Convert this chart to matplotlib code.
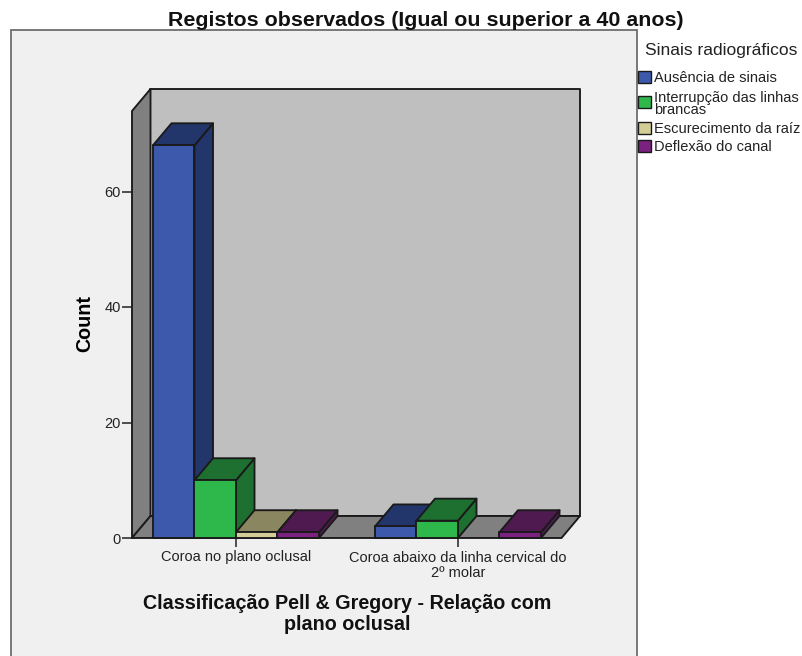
import matplotlib.pyplot as plt
from matplotlib.patches import Polygon, Rectangle

plt.rcParams['font.family'] = ['Liberation Sans', 'DejaVu Sans']

# Counts per crown position and radiographic sign
categories = ['Coroa no plano oclusal', 'Coroa abaixo da linha cervical do\n2º molar']
signs = ['Ausência de sinais', 'Interrupção das linhas\nbrancas', 'Escurecimento da raíz', 'Deflexão do canal']
ausencia = [68, 2]
interrupcao = [10, 3]
escurecimento = [1, 0]
deflexao = [1, 1]
yticks = [0, 20, 40, 60]

front_colors = ['#3D59AB', '#2EB84C', '#D3CE97', '#7B2180']
shade_colors = ['#23366C', '#1E7030', '#8A8660', '#4F1A4F']
edge = '#1A1A1A'

W, H = 803, 656
fig = plt.figure(figsize=(W / 100, H / 100), dpi=100, facecolor='white')

# light panel behind the plot, runs off the bottom of the figure
fig.add_artist(Rectangle((11 / W, -0.02), 626 / W, 1.02 - 30 / H, transform=fig.transFigure,
                         facecolor='#F0F0F0', edgecolor='#6E6E6E', linewidth=1.3, zorder=-1))

ax = fig.add_axes([132 / W, 1 - 538 / H, 448 / W, 449 / H])
ax.set_xlim(-104 / 222, 344 / 222)
ax.set_ylim(0, 449 / 5.775)
ax.patch.set_visible(False)
for s in ax.spines.values():
    s.set_visible(False)

bar_w = 41.5 / 222
dx = 18.5 / 222
dy = 22 / 5.775
x0, x1 = ax.get_xlim()
y1 = ax.get_ylim()[1]
x_front = x1 - dx


def poly(pts, color, z=1):
    ax.add_patch(Polygon(pts, closed=True, facecolor=color, edgecolor=edge, linewidth=1.35,
                         joinstyle='round', clip_on=False, zorder=z))


# back wall, left wall, floor
poly([(x0 + dx, dy), (x1, dy), (x1, y1), (x0 + dx, y1)], '#BFBFBF')
poly([(x0, 0), (x0 + dx, dy), (x0 + dx, y1), (x0, y1 - dy)], '#808080')
poly([(x0, 0), (x_front, 0), (x1, dy), (x0 + dx, dy)], '#808080')


def bar3d(left, h, front, shade, z):
    right = left + bar_w
    poly([(right, 0), (right + dx, dy), (right + dx, h + dy), (right, h)], shade, z)
    poly([(left, h), (right, h), (right + dx, h + dy), (left + dx, h + dy)], shade, z)
    poly([(left, 0), (right, 0), (right, h), (left, h)], front, z)


series = [ausencia, interrupcao, escurecimento, deflexao]
for c in range(len(categories)):
    for i, vals in enumerate(series):
        if vals[c] > 0:
            bar3d(c + (i - 2) * bar_w, vals[c], front_colors[i], shade_colors[i], 3 + i)

ax.set_xticks(range(len(categories)))
ax.set_xticklabels(categories, fontsize=10.5, color='#222222', linespacing=1.1)
ax.set_yticks(yticks)
ax.tick_params(axis='y', length=7, width=1.1, color='#222222', labelsize=10.5, labelcolor='#222222', pad=1)
ax.tick_params(axis='x', length=6.5, width=1.1, color='#222222', pad=2.5)

fig.text(85 / W, 1 - 323 / H, 'Count', rotation=90, fontsize=14.2, fontweight='bold', ha='center', va='center')
fig.text(347 / W, 1 - 614 / H, 'Classificação Pell & Gregory - Relação com\nplano oclusal', fontsize=14.2,
         fontweight='bold', ha='center', va='center', linespacing=1.15, color='#111111')
fig.text(425.5 / W, 1 - 20 / H, 'Registos observados (Igual ou superior a 40 anos)', fontsize=15.4,
         fontweight='bold', ha='center', va='center', color='#111111')

# legend on the right of the panel
fig.text(645 / W, 1 - 51 / H, 'Sinais radiográficos', fontsize=12.5, ha='left', va='center', color='#222222')
swatch_y = [77, 102, 128, 146]
text_y = [78, 104, 129, 147]
for i, name in enumerate(signs):
    fig.add_artist(Rectangle((638 / W, 1 - (swatch_y[i] + 6) / H), 13 / W, 12 / H, transform=fig.transFigure,
                             facecolor=front_colors[i], edgecolor=edge, linewidth=1.0))
    fig.text(654 / W, 1 - text_y[i] / H, name, fontsize=10.5, ha='left', va='center', color='#222222', linespacing=0.87)

fig.savefig('out.png', dpi=100)
